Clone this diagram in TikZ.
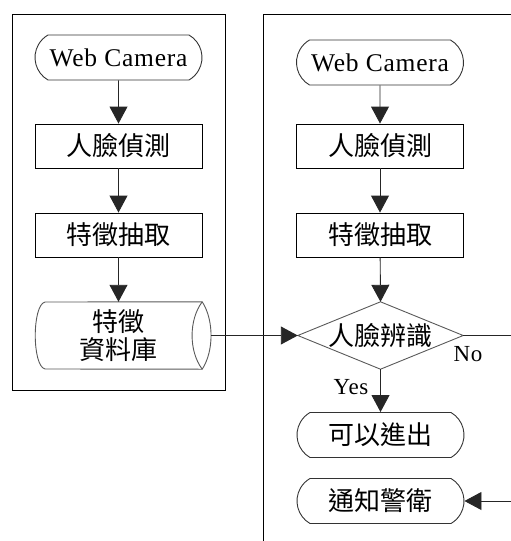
\documentclass[tikz,border=0pt]{standalone}
\usepackage{fontspec}
\setmainfont{Liberation Serif}[LetterSpace=3]
\newfontfamily\cjk{Noto Sans CJK TC}
\usetikzlibrary{arrows.meta,shapes.misc}

% 1pt per unit, y grows downward
\tikzset{
  latin/.style={font=\fontsize{25.5}{28}\selectfont},
  small latin/.style={font=\fontsize{23}{26}\selectfont},
  cjktext/.style={font=\cjk\fontsize{26}{28}\selectfont},
  frame/.style={line width=1pt, draw=black},
  proc/.style={draw=black, line width=0.9pt, minimum width=167pt,
    minimum height=44pt, inner sep=0pt, cjktext},
  term/.style={rounded rectangle, rounded rectangle arc length=120,
    draw=black!80, line width=0.9pt, minimum width=167pt,
    minimum height=45pt, inner sep=0pt},
  outline/.style={draw=black!65, line width=0.9pt},
  link/.style={line width=0.9pt, draw=black!85},
  flow/.style={link, -{Triangle[length=17pt,width=18pt]}},
}

\begin{document}
\begin{tikzpicture}[x=1pt,y=-1pt]
\useasboundingbox (0,0) rectangle (511,541);

% enrolment frame and recognition frame
\draw[frame] (12,14) rectangle (225,390);
\draw[frame] (511,14) -- (263,14) -- (263,541);

% enrolment column
\node[term, latin] (lweb) at (118.5,57.5) {Web Camera};
\node[proc] (ldet) at (118.5,146) {人臉偵測};
\node[proc] (lfeat) at (118.5,235) {特徵抽取};
\node[minimum width=167pt, minimum height=67pt, inner sep=0pt,
      align=center, cjktext] (ldb) at (118.5,335.5) {特徵\\資料庫};
% database drawn as a horizontal cylinder
\draw[outline] (45,302) -- (ldb.north east)
  .. controls (214,320) and (214,351) .. (ldb.south east)
  -- (45,369) .. controls (32,366) and (32,305) .. cycle;
\draw[outline] (ldb.north east) .. controls (188.7,320) and (188.7,351) .. (ldb.south east);
\coordinate (dbport) at (211,335.5);

% recognition column
\node[term, latin] (rweb) at (380,62.5) {Web Camera};
\node[proc] (rdet) at (380,146) {人臉偵測};
\node[proc] (rfeat) at (380,235) {特徵抽取};
\node[minimum width=165pt, minimum height=67pt, inner sep=0pt, cjktext]
      (dec) at (380.5,335.5) {人臉辨識};
\draw[outline] (dec.north) -- (dec.east) -- (dec.south) -- (dec.west) -- cycle;
\node[term, cjktext] (ok) at (380.5,435) {可以進出};
\node[term, cjktext] (alarm) at (380.5,501) {通知警衛};
\coordinate (noend) at (511,335.5);
\coordinate (alarmin) at (511,501);

\node[small latin] (nolab) at (468,354) {No};
\node[small latin] (yeslab) at (351,387) {Yes};

% connectors
\draw[flow] (lweb) -- (ldet);
\draw[flow] (ldet) -- (lfeat);
\draw[flow] (lfeat) -- (ldb.north);
\draw[flow] (rweb) -- (rdet);
\draw[flow] (rdet) -- (rfeat);
\draw[flow] (rfeat) -- (dec.north);
\draw[flow] (dbport) -- (dec.west);
\draw[link] (dec.east) -- (noend);
\draw[flow] (dec.south) -- (ok);
\draw[flow] (alarmin) -- (alarm.east);
\end{tikzpicture}
\end{document}
